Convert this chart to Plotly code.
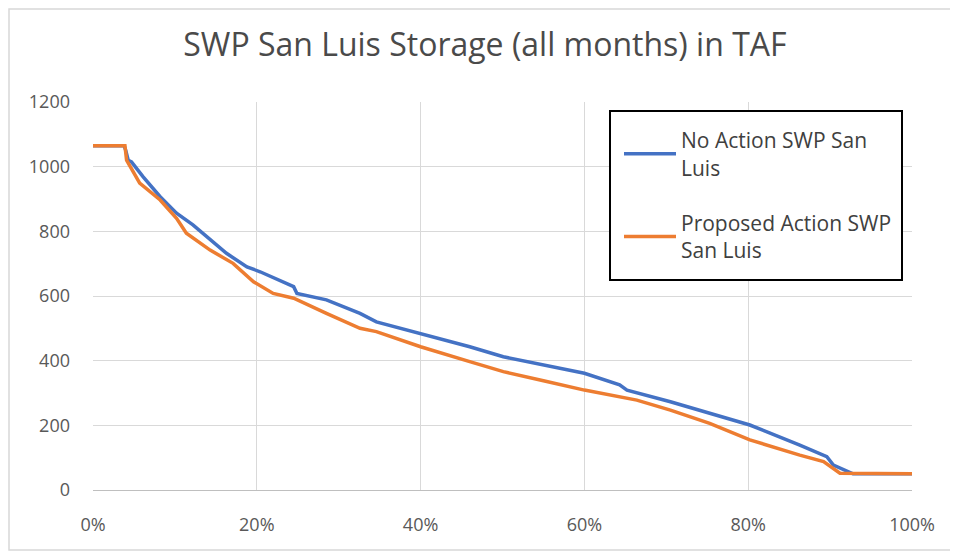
import plotly.graph_objects as go

title_text = "SWP San Luis Storage (all months) in TAF"

no_action_x = [0.0, 3.8, 4.0, 4.3, 4.7, 6.1, 8.2, 10.2, 12.2, 13.9, 16.3, 18.8, 20.4, 24.5, 24.9,
               28.5, 32.6, 34.6, 40.0, 46.0, 50.1, 55.0, 60.0, 64.3, 65.2, 70.5, 75.3, 80.2,
               86.3, 89.6, 90.4, 92.8, 100.0]
no_action_y = [1065, 1065, 1050, 1020, 1015, 969, 907, 856, 820, 783, 732, 690, 675, 629, 608,
               588, 546, 520, 484, 443, 412, 388, 361, 325, 309, 273, 237, 201,
               139, 103, 77, 50, 50]

proposed_x = [0.0, 3.9, 4.1, 5.7, 8.2, 10.2, 11.4, 14.3, 17.1, 19.6, 22.0, 24.5, 28.5, 32.6,
              34.6, 40.0, 46.0, 50.1, 55.0, 60.0, 66.4, 70.5, 75.3, 80.2, 86.3, 89.2, 91.2, 100.0]
proposed_y = [1065, 1065, 1020, 949, 897, 840, 794, 742, 701, 644, 608, 593, 546, 500,
              490, 443, 397, 366, 338, 309, 278, 247, 206, 155, 108, 88, 52, 50]

series_names = ["No Action SWP San<br>Luis", "Proposed Action SWP<br>San Luis"]
series_colors = ["#4472C4", "#ED7D31"]

x_ticks = [0, 0.2, 0.4, 0.6, 0.8, 1.0]
x_tick_labels = ["0%", "20%", "40%", "60%", "80%", "100%"]
y_ticks = [0, 200, 400, 600, 800, 1000, 1200]

fig = go.Figure()
for i, (xs, ys, name, color) in enumerate([
        (no_action_x, no_action_y, series_names[0], series_colors[0]),
        (proposed_x, proposed_y, series_names[1], series_colors[1])]):
    fig.add_trace(go.Scatter(
        x=[v / 100 for v in xs], y=ys, mode="lines", name=name,
        legendgroup=f"g{i}",
        line=dict(color=color, width=3.5),
    ))

font_family = "Open Sans, Noto Sans, sans-serif"
W, H = 950, 544
L, R, T, B = 85, 46, 94, 62
pw, ph = W - L - R, H - T - B
OX, OY = 8, 8  # page offset of the figure in the window


def px_x(wx):
    return (wx - OX - L) / pw


def px_y(wy):
    return 1 - (wy - OY - T) / ph


fig.update_layout(
    width=W, height=H,
    margin=dict(l=L, r=R, t=T, b=B),
    paper_bgcolor="white", plot_bgcolor="white",
    title=dict(text=title_text, x=0.502, xanchor="center", y=1 - 37 / H, yanchor="middle",
               font=dict(family=font_family, size=32, color="#4a4a4a")),
    font=dict(family=font_family, color="#595959", size=18),
    xaxis=dict(range=[0, 1], tickvals=x_ticks, ticktext=x_tick_labels,
               showgrid=True, gridcolor="#d9d9d9", gridwidth=1.3,
               showline=True, linecolor="#bfbfbf", linewidth=1.3,
               zeroline=False, ticks="", ticklabelstandoff=18,
               tickfont=dict(size=18, color="#595959")),
    yaxis=dict(range=[0, 1200], tickvals=y_ticks,
               showgrid=True, gridcolor="#d9d9d9", gridwidth=1.3,
               zeroline=False, ticks="", ticklabelstandoff=22,
               tickfont=dict(size=18, color="#595959")),
    legend=dict(x=px_x(619), xanchor="left", y=px_y(120), yanchor="top",
                bgcolor="rgba(0,0,0,0)", borderwidth=0,
                font=dict(family=font_family, size=21, color="#404040"),
                tracegroupgap=25, itemwidth=52),
    showlegend=True,
)
# legend frame
fig.add_shape(type="rect", xref="paper", yref="paper",
              x0=px_x(610), x1=px_x(902), y0=px_y(280), y1=px_y(111),
              line=dict(color="black", width=2), fillcolor="white", layer="above")
# chart-area frame
fig.add_shape(type="rect", xref="paper", yref="paper",
              x0=-(L - 1) / pw, x1=(W - 2 - L) / pw,
              y0=-(B - 2) / ph, y1=1 + (T - 1) / ph,
              line=dict(color="#d8d8d8", width=1.5), layer="below")

fig.write_html("out.html")
